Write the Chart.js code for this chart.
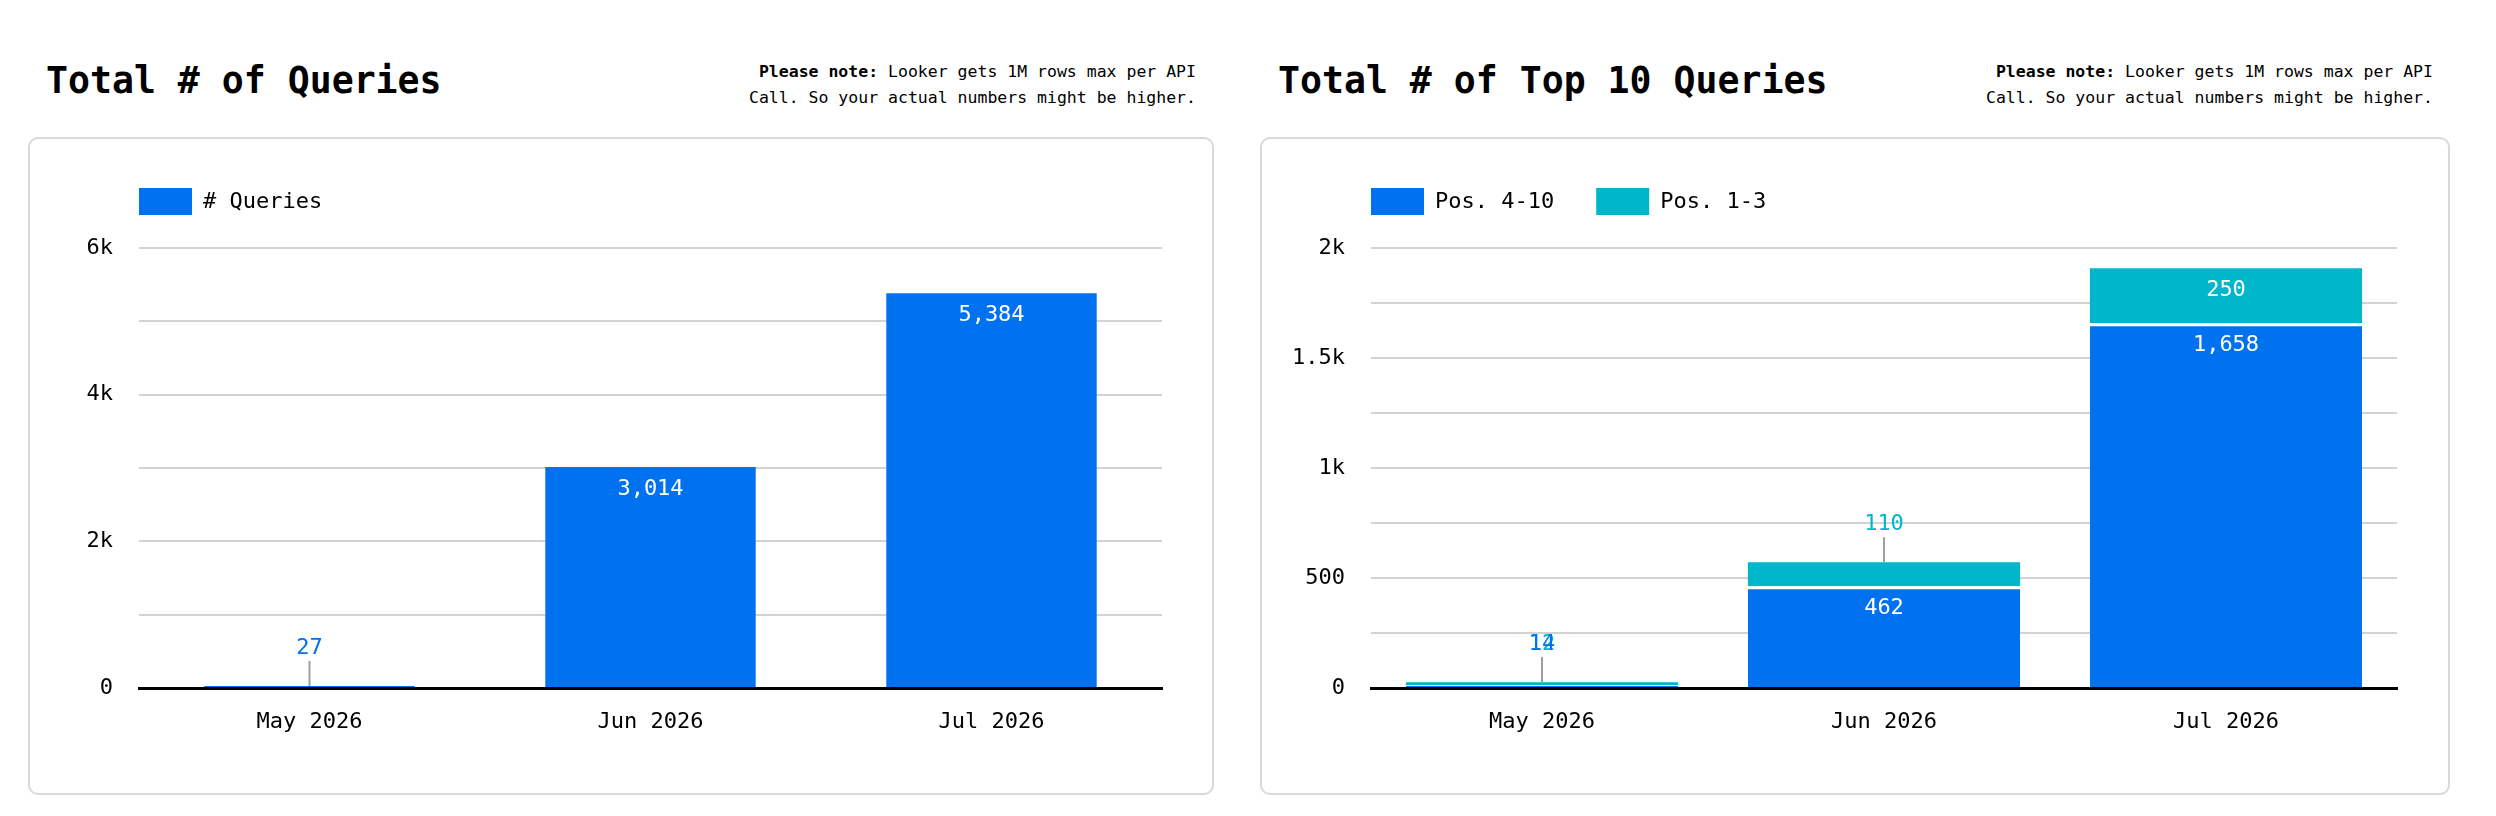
<!DOCTYPE html>
<html>
<head>
<meta charset="utf-8">
<title>Queries</title>
<script src="https://cdn.jsdelivr.net/npm/chart.js@4.4.1/dist/chart.umd.min.js"></script>
<style>
    body { margin: 0; background: #fff; font-family: "DejaVu Sans Mono", monospace; color: #000; }
    .page { position: relative; width: 2496px; height: 816px; overflow: hidden; }
    .title { position: absolute; top: 60px; font-size: 36.5px; line-height: 42px; font-weight: bold; white-space: nowrap; }
    .note { position: absolute; top: 59px; font-size: 16.5px; line-height: 26px; text-align: right; white-space: nowrap; }
    .card { position: absolute; top: 137px; height: 654px; border: 2px solid #d9d9d9; border-radius: 10px; }
    .card canvas { display: block; }
</style>
</head>
<body>
<div class="page">
    <div class="title" style="left:46px">Total # of Queries</div>
    <div class="note" style="right:1300px"><b>Please note:</b> Looker gets 1M rows max per API<br>Call. So your actual numbers might be higher.</div>
    <div class="card" style="left:28px; width:1182px">
        <canvas id="queriesChart" width="1182" height="654"></canvas>
    </div>

    <div class="title" style="left:1278px">Total # of Top 10 Queries</div>
    <div class="note" style="right:63px"><b>Please note:</b> Looker gets 1M rows max per API<br>Call. So your actual numbers might be higher.</div>
    <div class="card" style="left:1260px; width:1186px">
        <canvas id="topChart" width="1186" height="654"></canvas>
    </div>
</div>

<script>
// Data
const months = ['May 2026', 'Jun 2026', 'Jul 2026'];
const queries = [27, 3014, 5384];
const pos4to10 = [14, 462, 1658];
const pos1to3 = [12, 110, 250];

// y tick labels, one per grid step (empty = grid line only)
const queryTicks = ['0', '', '2k', '', '4k', '', '6k'];
const topTicks = ['0', '', '500', '', '1k', '', '1.5k', '', '2k'];

const BLUE = '#0072f0';
const CYAN = '#00b6cb';
const FONT = '"DejaVu Sans Mono", monospace';

Chart.defaults.font.family = FONT;
Chart.defaults.font.size = 22;
Chart.defaults.color = '#000';

// Legend drawn over the plot's left edge, like the Looker one
const topLegend = {
    id: 'topLegend',
    afterDraw(chart) {
        const ctx = chart.ctx;
        let x = chart.chartArea.left;
        const y = 49;
        ctx.save();
        ctx.font = '22px ' + FONT;
        ctx.textBaseline = 'middle';
        ctx.textAlign = 'left';
        chart.data.datasets.forEach(ds => {
            ctx.fillStyle = ds.backgroundColor;
            ctx.fillRect(x, y, 53, 27);
            ctx.fillStyle = '#000';
            ctx.fillText(ds.label, x + 64, y + 14);
            x += 64 + ctx.measureText(ds.label).width + 42;
        });
        ctx.restore();
    }
};

// Value labels: inside the bar when it is tall enough, else above with a leader line
const barLabels = {
    id: 'barLabels',
    afterDatasetsDraw(chart) {
        const ctx = chart.ctx;
        const sets = chart.data.datasets;
        ctx.save();
        ctx.font = '22px ' + FONT;
        ctx.textAlign = 'center';
        ctx.textBaseline = 'middle';
        for (let i = 0; i < chart.data.labels.length; i++) {
            let top = Infinity;
            sets.forEach((ds, d) => { top = Math.min(top, chart.getDatasetMeta(d).data[i].y); });
            for (let d = sets.length - 1; d >= 0; d--) {
                const bar = chart.getDatasetMeta(d).data[i];
                const text = sets[d].data[i].toLocaleString('en-US');
                if (bar.base - bar.y >= 40) {
                    ctx.fillStyle = '#fff';
                    ctx.fillText(text, bar.x, bar.y + 22);
                } else {
                    ctx.strokeStyle = '#9e9e9e';
                    ctx.lineWidth = 2;
                    ctx.beginPath();
                    ctx.moveTo(bar.x, top);
                    ctx.lineTo(bar.x, top - 25);
                    ctx.stroke();
                    ctx.fillStyle = sets[d].backgroundColor;
                    ctx.fillText(text, bar.x, top - 38);
                }
            }
        }
        ctx.restore();
    }
};

function chartOptions(max, step, tickLabels, rightPad, stacked) {
    return {
        responsive: false,
        animation: false,
        layout: { padding: { top: 109, right: rightPad, left: 0, bottom: 0 } },
        plugins: { legend: { display: false }, tooltip: { enabled: false } },
        scales: {
            x: {
                stacked: stacked,
                grid: { display: false },
                border: { color: '#000', width: 3 },
                ticks: { padding: 13, color: '#000' },
                afterFit: scale => { scale.height = 105; }
            },
            y: {
                stacked: stacked,
                min: 0,
                max: max,
                ticks: {
                    stepSize: step,
                    padding: 26,
                    color: '#000',
                    callback: (value, index) => tickLabels[index]
                },
                grid: { color: '#d3d3d3', lineWidth: 2, drawTicks: false },
                border: { display: false },
                afterFit: scale => { scale.width = 109; }
            }
        }
    };
}

new Chart(document.getElementById('queriesChart'), {
    type: 'bar',
    data: {
        labels: months,
        datasets: [{
            label: '# Queries',
            data: queries,
            backgroundColor: BLUE,
            borderWidth: 0,
            barPercentage: 0.617,
            categoryPercentage: 1
        }]
    },
    options: chartOptions(6000, 1000, queryTicks, 50, false),
    plugins: [barLabels, topLegend]
});

new Chart(document.getElementById('topChart'), {
    type: 'bar',
    data: {
        labels: months,
        datasets: [{
            label: 'Pos. 4-10',
            data: pos4to10,
            backgroundColor: BLUE,
            borderColor: '#fff',
            borderWidth: { top: 3, right: 0, bottom: 0, left: 0 },
            barPercentage: 0.796,
            categoryPercentage: 1
        }, {
            label: 'Pos. 1-3',
            data: pos1to3,
            backgroundColor: CYAN,
            borderWidth: 0,
            barPercentage: 0.796,
            categoryPercentage: 1
        }]
    },
    options: chartOptions(2000, 250, topTicks, 51, true),
    plugins: [barLabels, topLegend]
});
</script>
</body>
</html>
